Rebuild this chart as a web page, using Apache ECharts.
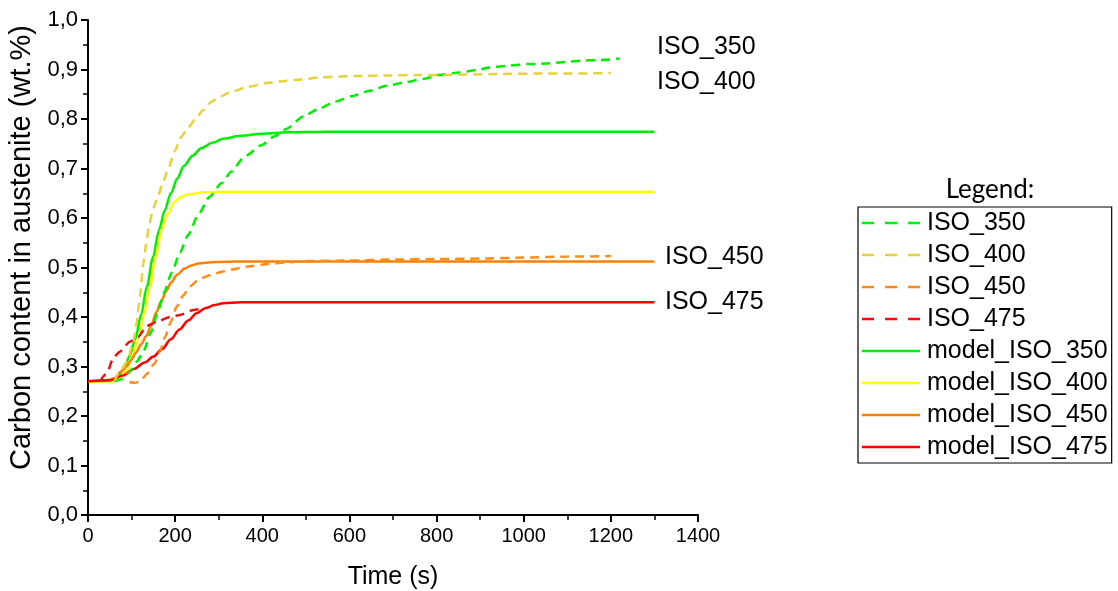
<!DOCTYPE html>
<html>
<head>
<meta charset="utf-8">
<script src="https://cdn.jsdelivr.net/npm/echarts@6/dist/echarts.min.js"></script>
<style>
html,body{margin:0;padding:0;background:#fff;}
#chart{width:1118px;height:591px;}
</style>
</head>
<body>
<div id="chart"></div>
<script>
// ---- data (time in s, carbon content in wt.%) ----
const seriesNames = ['ISO_350','ISO_400','ISO_450','ISO_475','model_ISO_350','model_ISO_400','model_ISO_450','model_ISO_475'];
const yTickValues = [0,0.1,0.2,0.3,0.4,0.5,0.6,0.7,0.8,0.9,1.0];
const xTickValues = [0,200,400,600,800,1000,1200,1400];

const iso350 = [[60,0.27],[80,0.275],[96,0.29],[112,0.31],[127,0.33],[145,0.37],[160,0.41],[175,0.45],[192,0.49],[211,0.53],[230,0.566],[252,0.605],[279,0.643],[306,0.67],[329,0.694],[359,0.724],[398,0.747],[428,0.765],[455,0.78],[494,0.805],[528,0.82],[567,0.835],[605,0.846],[647,0.857],[685,0.867],[727,0.874],[769,0.881],[807,0.889],[853,0.894],[892,0.899],[922,0.904],[968,0.908],[1010,0.911],[1052,0.912],[1094,0.915],[1133,0.918],[1171,0.919],[1220,0.922]];
const iso400 = [[60,0.27],[73,0.29],[90,0.31],[104,0.35],[112,0.39],[119,0.441],[127,0.508],[134,0.55],[140,0.585],[150,0.62],[161,0.645],[172,0.672],[184,0.699],[199,0.735],[214,0.764],[230,0.783],[245,0.798],[265,0.818],[283,0.835],[305,0.846],[329,0.855],[367,0.865],[413,0.873],[451,0.877],[490,0.88],[532,0.884],[580,0.886],[624,0.887],[690,0.888],[746,0.889],[820,0.889],[876,0.89],[950,0.891],[1050,0.892],[1130,0.892],[1200,0.893]];
const iso450 = [[95,0.268],[108,0.267],[120,0.27],[135,0.285],[153,0.306],[165,0.33],[177,0.36],[190,0.39],[203,0.42],[218,0.443],[234,0.462],[252,0.474],[271,0.482],[291,0.488],[310,0.492],[329,0.496],[367,0.502],[413,0.507],[451,0.51],[500,0.513],[600,0.514],[700,0.516],[800,0.517],[900,0.518],[1000,0.52],[1100,0.522],[1200,0.523]];
const iso475 = [[28,0.27],[35,0.28],[45,0.29],[58,0.318],[73,0.33],[96,0.35],[115,0.36],[135,0.382],[158,0.39],[188,0.4],[211,0.404],[242,0.414],[257,0.416]];
const model350 = [[0,0.27],[50,0.27],[65,0.275],[81,0.293],[95,0.32],[108,0.354],[122,0.405],[135,0.461],[149,0.52],[163,0.576],[176,0.615],[190,0.65],[205,0.68],[220,0.705],[240,0.726],[260,0.741],[285,0.752],[310,0.76],[350,0.766],[400,0.77],[460,0.773],[550,0.774],[1300,0.774]];
const model400 = [[0,0.27],[55,0.27],[70,0.274],[89,0.293],[102,0.32],[115,0.354],[129,0.405],[142,0.461],[155,0.52],[169,0.576],[182,0.607],[199,0.633],[215,0.643],[230,0.648],[268,0.652],[320,0.653],[1300,0.653]];
const model450 = [[0,0.27],[40,0.271],[60,0.276],[76,0.29],[88,0.3],[99,0.313],[110,0.328],[122,0.345],[134,0.362],[145,0.383],[157,0.41],[168,0.432],[180,0.453],[191,0.47],[205,0.486],[222,0.498],[237,0.504],[252,0.508],[291,0.511],[340,0.512],[1300,0.512]];
const model475 = [[0,0.27],[50,0.272],[80,0.282],[105,0.295],[130,0.308],[150,0.32],[170,0.335],[190,0.355],[210,0.375],[230,0.393],[250,0.408],[270,0.418],[290,0.424],[310,0.428],[350,0.43],[1300,0.43]];

const seriesData = [iso350, iso400, iso450, iso475, model350, model400, model450, model475];
const seriesColors = ['#00ee00','#e6d23a','#ff8c1a','#ee1111','#00ee00','#ffff00','#ff8000','#ff0000'];
const seriesDashed = [true,true,true,true,false,false,false,false];
const endLabels = ['ISO_350','ISO_400','ISO_450','ISO_475'];

const FONT = 'Liberation Sans, Arial, sans-serif';
const DASH_ICON = 'path://M0,0H11V1H0Z M21,0H32V1H21Z M42,0H53V1H42Z';
const SOLID_ICON = 'path://M0,0H58V1H0Z';
const chart = echarts.init(document.getElementById('chart'), null, {renderer:'canvas'});

const series = seriesNames.map((n,i)=>({
  name:n, type:'line', data:seriesData[i], symbol:'none', showSymbol:false,
  smooth: seriesDashed[i] ? 0.2 : 0.3, smoothMonotone:'x',
  z: seriesDashed[i] ? 3 : 2,
  lineStyle:{color:seriesColors[i], width:2.5, type: seriesDashed[i] ? [9,6] : 'solid'},
  itemStyle:{color:seriesColors[i]},
  animation:false
}));

chart.setOption({
  animation:false,
  backgroundColor:'#ffffff',
  grid:{left:88, top:20, right:420, bottom:76, containLabel:false, outerBoundsMode:'none'},
  xAxis:{
    type:'value', min:0, max:1400, interval:200,
    name:'Time (s)', nameLocation:'middle', nameGap:50,
    nameTextStyle:{fontFamily:FONT, fontSize:25, color:'#000'},
    axisLine:{show:true, onZero:false, lineStyle:{color:'#000', width:2}},
    axisTick:{show:true, inside:false, length:7, lineStyle:{color:'#000', width:2}},
    minorTick:{show:true, splitNumber:2, length:5, lineStyle:{color:'#000', width:1.5}},
    splitLine:{show:false},
    axisLabel:{fontFamily:FONT, fontSize:20, color:'#000', margin:11,
      formatter:(v)=>{ const m = xTickValues.find(t=>Math.abs(t-v)<1e-6); return String(m!==undefined?m:Math.round(v)); }}
  },
  yAxis:{
    type:'value', min:0, max:1, interval:0.1,
    name:'Carbon content in austenite (wt.%)', nameLocation:'middle', nameGap:52,
    nameTextStyle:{fontFamily:FONT, fontSize:29, color:'#000', padding:[0,0,0,40]},
    axisLine:{show:true, onZero:false, lineStyle:{color:'#000', width:2}},
    axisTick:{show:true, inside:false, length:7, lineStyle:{color:'#000', width:2}},
    minorTick:{show:true, splitNumber:2, length:5, lineStyle:{color:'#000', width:1.5}},
    splitLine:{show:false},
    axisLabel:{fontFamily:FONT, fontSize:22, color:'#000', margin:10,
      formatter:(v)=>{ const m = yTickValues.find(t=>Math.abs(t-v)<1e-6); return (m!==undefined?m:v).toFixed(1).replace('.',','); }}
  },
  legend:{
    orient:'vertical', left:858, top:207,
    itemWidth:58, itemHeight:2.5, itemGap:6, symbolKeepAspect:false,
    padding:[3,4,3,4],
    borderColor:'#000', borderWidth:1.2,
    textStyle:{fontFamily:FONT, fontSize:25, color:'#000', lineHeight:26, padding:[0,0,0,2]},
    data:seriesNames.map((n,i)=>({name:n, icon: seriesDashed[i] ? DASH_ICON : SOLID_ICON}))
  },
  graphic:[
    {type:'text', style:{x:990, y:190, text:'Legend:', align:'center', verticalAlign:'middle', font:'26px Lato, "Open Sans", sans-serif', fill:'#000'}},
    ...endLabels.map((e,k)=>{
      const pos = [[657,47],[657,82],[665,257],[665,302]][k];
      return {type:'text', style:{x:pos[0], y:pos[1], text:e, align:'left', verticalAlign:'middle', font:'25px "Liberation Sans", Arial, sans-serif', fill:'#000'}};
    })
  ],
  series:series
});
</script>
</body>
</html>
